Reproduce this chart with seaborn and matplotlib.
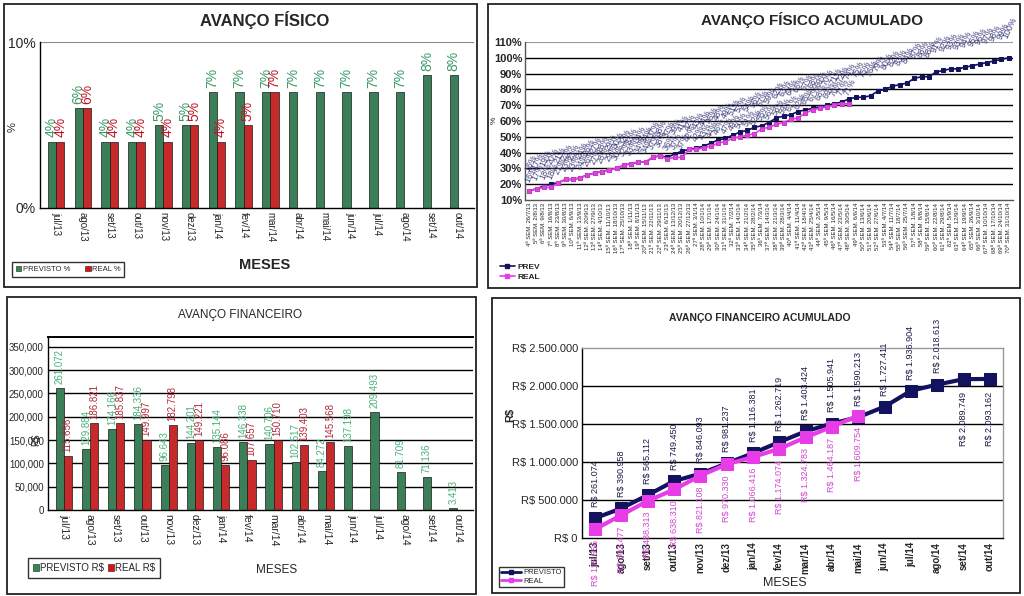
import numpy as np
import pandas as pd
import matplotlib
matplotlib.use("Agg")
import matplotlib.pyplot as plt
import seaborn as sns
from matplotlib.patches import Rectangle, Patch
from matplotlib.lines import Line2D
from matplotlib import font_manager as fm

# ---------------- data ----------------
meses = ["jul/13", "ago/13", "set/13", "out/13", "nov/13", "dez/13", "jan/14", "fev/14",
         "mar/14", "abr/14", "mai/14", "jun/14", "jul/14", "ago/14", "set/14", "out/14"]
fis_previsto = [4, 6, 4, 4, 5, 5, 7, 7, 7, 7, 7, 7, 7, 7, 8, 8]
fis_real = [4, 6, 4, 4, 4, 5, 4, 5, 7]

sem_datas = ["26/7/13", "2/8/13", "9/8/13", "16/8/13", "23/8/13", "30/8/13", "6/9/13", "13/9/13",
             "20/9/13", "27/9/13", "4/10/13", "11/10/13", "18/10/13", "25/10/13", "1/11/13",
             "8/11/13", "15/11/13", "22/11/13", "29/11/13", "6/12/13", "13/12/13", "20/12/13",
             "27/12/13", "3/1/14", "10/1/14", "17/1/14", "24/1/14", "31/1/14", "7/2/14",
             "14/2/14", "21/2/14", "28/2/14", "7/3/14", "14/3/14", "21/3/14", "28/3/14",
             "4/4/14", "11/4/14", "18/4/14", "25/4/14", "2/5/14", "9/5/14", "16/5/14",
             "23/5/14", "30/5/14", "6/6/14", "13/6/14", "20/6/14", "27/6/14", "4/7/14",
             "11/7/14", "18/7/14", "25/7/14", "1/8/14", "8/8/14", "15/8/14", "22/8/14",
             "29/8/14", "5/9/14", "12/9/14", "19/9/14", "26/9/14", "3/10/14", "10/10/14",
             "17/10/14", "24/10/14", "31/10/14"]
sem_inicio = 4
acum_prev = [16, 17, 19, 20, 21, 23, 23, 24, 26, 27, 28, 29, 30, 32, 33, 34, 34, 37, 38, 37,
             39, 41, 42, 43, 44, 46, 48, 49, 51, 53, 54, 56, 57, 59, 62, 63, 64, 66, 67, 68,
             69, 70, 71, 72, 74, 75, 75, 76, 79, 80, 82, 83, 84, 87, 88, 88, 91, 92, 93, 93,
             94, 95, 96, 97, 98, 99, 100]
acum_real = [16, 17, 18, 18, 21, 23, 23, 24, 26, 27, 28, 29, 30, 32, 33, 34, 34, 37, 38, 36,
             37, 37, 42, 42, 43, 44, 46, 47, 49, 50, 51, 52, 55, 56, 58, 59, 61, 62, 65, 67,
             68, 69, 70, 71, 71]

fin_previsto = [261072, 129884, 174166, 184336, 96643, 144201, 135144, 146338, 140706,
                102517, 84272, 137198, 209493, 81709, 71136, 3413]
fin_real = [115656, 186821, 185837, 149997, 182798, 149221, 96086, 107657, 150710,
            139403, 145568]

fin_prev_acum = [261074, 390958, 565112, 749450, 846093, 981237, 1116381, 1262719, 1403424,
                 1505941, 1590213, 1727411, 1936904, 2018613, 2089749, 2093162]
fin_real_acum = [115656, 302477, 488313, 638310, 821108, 970330, 1066416, 1174074, 1324783,
                 1464187, 1609754]

# ---------------- style ----------------
W, H = 1024, 596
sns.set_theme(style="white")
names = {f.name for f in fm.fontManager.ttflist}
NARROW = "Liberation Sans Narrow" if "Liberation Sans Narrow" in names else "Liberation Sans"
plt.rcParams["font.family"] = ["Liberation Sans", "DejaVu Sans"]
plt.rcParams["axes.linewidth"] = 1.0

GREEN = "#2E8B57"
RED = "#E01010"
NAVY = "#12125E"
MAGENTA = "#E83CE8"

fig = plt.figure(figsize=(W / 100, H / 100), dpi=100)
fig.patch.set_facecolor("white")


def pax(x0, y0, x1, y1):
    return fig.add_axes([x0 / W, 1 - y1 / H, (x1 - x0) / W, (y1 - y0) / H])


def ftext(x, y, s, **kw):
    fig.text(x / W, 1 - y / H, s, **kw)


def border(x0, y0, x1, y1, lw=1.3):
    fig.add_artist(Rectangle((x0 / W, 1 - y1 / H), (x1 - x0) / W, (y1 - y0) / H,
                             transform=fig.transFigure, fill=False, ec="#222222", lw=lw))


def fig_anchor(x, y):
    return (x / W, 1 - y / H)


def bar_df(prev, real, lab_prev, lab_real):
    n = len(meses)
    real_full = list(real) + [np.nan] * (n - len(real))
    return pd.DataFrame({
        "mes": meses * 2,
        "valor": list(prev) + real_full,
        "serie": [lab_prev] * n + [lab_real] * n,
    })


# =============== Panel 1: AVANÇO FÍSICO ===============
border(4, 4, 477, 287)
ax1 = pax(40, 42, 474, 208)
df1 = bar_df(fis_previsto, fis_real, "PREVISTO %", "REAL %")
sns.barplot(data=df1, x="mes", y="valor", hue="serie", palette=[GREEN, RED],
            width=0.62, edgecolor="#1a1a1a", linewidth=0.5, ax=ax1, legend=False)
ax1.set_ylim(0, 10)
ax1.set_xlim(-0.6, len(meses) - 0.4)
ax1.set_yticks([0, 10])
ax1.set_yticklabels(["0%", "10%"], fontsize=10, family=NARROW)
ax1.set_xticks(range(len(meses)))
ax1.set_xticklabels(meses, rotation=270, fontsize=7, family=NARROW)
ax1.set_xlabel("")
ax1.set_ylabel("")
ax1.tick_params(axis="both", length=0, pad=3)
for s in ["top", "right"]:
    ax1.spines[s].set_visible(False)
ax1.axhline(10, color="#888888", lw=0.8)
ax1.spines["left"].set_color("black")
ax1.spines["bottom"].set_color("black")
for cont, col in zip(ax1.containers, ["#3C9A68", "#C01528"]):
    for bar in cont:
        h = bar.get_height()
        if np.isnan(h):
            continue
        ax1.annotate(f"{h:.0f}%", (bar.get_x() + bar.get_width() / 2, h),
                     xytext=(0, 3), textcoords="offset points", rotation=90,
                     ha="center", va="bottom", fontsize=10, color=col, family=NARROW)
ftext(265, 20, "AVANÇO FÍSICO", ha="center", va="center", fontsize=12,
      fontweight="bold", family=NARROW)
ftext(265, 265, "MESES", ha="center", va="center", fontsize=10.5, fontweight="bold",
      family=NARROW)
ftext(13, 127, "%", ha="center", va="center", fontsize=8, rotation=90, family=NARROW)
h1 = [Patch(facecolor=GREEN, edgecolor="#1a1a1a", lw=0.4),
      Patch(facecolor=RED, edgecolor="#1a1a1a", lw=0.4)]
ax1.legend(h1, ["PREVISTO %", "REAL %"], loc="lower left",
           bbox_to_anchor=fig_anchor(8, 281), bbox_transform=fig.transFigure,
           ncol=2, fontsize=5.5, frameon=True, fancybox=False, edgecolor="black",
           handlelength=0.7, handleheight=0.7, handletextpad=0.2, columnspacing=2.0,
           borderpad=0.5, prop={"family": NARROW, "size": 5.5})

# =============== Panel 2: AVANÇO FÍSICO ACUMULADO ===============
border(488, 4, 1020, 288)
ax2 = pax(525, 42, 1013, 200)
idx_prev = np.arange(len(acum_prev))
idx_real = np.arange(len(acum_real))
sns.lineplot(x=idx_prev, y=acum_prev, color=NAVY, marker="s", markersize=3.2,
             markeredgecolor=NAVY, lw=1.2, ax=ax2)
sns.lineplot(x=idx_real, y=acum_real, color=MAGENTA, marker="s", markersize=3.2,
             markeredgecolor="#C040C0", lw=1.2, ax=ax2)
ax2.set_ylim(10, 110)
ax2.set_xlim(-0.6, len(acum_prev) - 0.4)
yt2 = list(range(10, 111, 10))
ax2.set_yticks(yt2)
ax2.set_yticklabels([f"{v}%" for v in yt2], fontsize=8, fontweight="bold", family=NARROW)
for v in yt2[1:-1]:
    ax2.axhline(v, color="black", lw=1.0, zorder=0)
ax2.axhline(110, color="#999999", lw=0.8, zorder=0)
ax2.set_xticks(idx_prev)
ax2.set_xticklabels([f"{sem_inicio + i}ª SEM. {d}" for i, d in enumerate(sem_datas)],
                    rotation=90, fontsize=4.3, family=NARROW)
ax2.tick_params(axis="both", length=0, pad=2)
for s in ["top", "right"]:
    ax2.spines[s].set_visible(False)
ax2.spines["left"].set_color("#555555")
ax2.spines["bottom"].set_color("#555555")
for x, v in zip(idx_prev, acum_prev):
    ax2.annotate(f"{v}%", (x, v), xytext=(1, 13), textcoords="offset points", rotation=65,
                 ha="center", va="bottom", fontsize=6.3, color="#3A3A7C", family=NARROW)
for x, v in zip(idx_real, acum_real):
    ax2.annotate(f"{v}%", (x, v), xytext=(1, 5), textcoords="offset points", rotation=65,
                 ha="center", va="bottom", fontsize=6.3, color="#44447F", family=NARROW)
ftext(812, 20, "AVANÇO FÍSICO ACUMULADO", ha="center", va="center", fontsize=11,
      fontweight="bold", family=NARROW)
ftext(494, 120, "%", ha="center", va="center", fontsize=6, rotation=90, family=NARROW)
h2 = [Line2D([], [], color=NAVY, marker="s", markersize=3, lw=1.2),
      Line2D([], [], color=MAGENTA, marker="s", markersize=3, lw=1.2)]
ax2.legend(h2, ["PREV", "REAL"], loc="lower left", bbox_to_anchor=fig_anchor(494, 287),
           bbox_transform=fig.transFigure, frameon=False, handlelength=1.8,
           handletextpad=0.3, labelspacing=0.3, borderpad=0.2,
           prop={"family": NARROW, "size": 6, "weight": "bold"})

# =============== Panel 3: AVANÇO FINANCEIRO ===============
border(7, 297, 476, 594)
ax3 = pax(48, 337, 473, 510)
df3 = bar_df(fin_previsto, fin_real, "PREVISTO R$", "REAL R$")
sns.barplot(data=df3, x="mes", y="valor", hue="serie", palette=[GREEN, RED],
            width=0.62, edgecolor="#1a1a1a", linewidth=0.5, ax=ax3, legend=False)
ax3.set_ylim(0, 371000)
ax3.set_xlim(-0.6, len(meses) - 0.4)
yt3 = list(range(0, 350001, 50000))
ax3.set_yticks(yt3)
ax3.set_yticklabels([f"{v:,}" for v in yt3], fontsize=7, family=NARROW)
for v in yt3[1:]:
    ax3.axhline(v, color="black", lw=1.0, zorder=0)
ax3.set_xticks(range(len(meses)))
ax3.set_xticklabels(meses, rotation=270, fontsize=7.5, family=NARROW)
ax3.set_xlabel("")
ax3.set_ylabel("")
ax3.tick_params(axis="both", length=0, pad=3)
ax3.spines["top"].set_color("black")
ax3.spines["top"].set_linewidth(1.4)
ax3.spines["right"].set_visible(False)
ax3.spines["left"].set_color("black")
ax3.spines["bottom"].set_color("black")
for cont, col in zip(ax3.containers, ["#48B078", "#B02838"]):
    for bar in cont:
        h = bar.get_height()
        if np.isnan(h):
            continue
        ax3.annotate(f"{h:,.0f}".replace(",", "."), (bar.get_x() + bar.get_width() / 2, h),
                     xytext=(0, 3), textcoords="offset points", rotation=90,
                     ha="center", va="bottom", fontsize=7, color=col, family=NARROW)
ftext(240, 315, "AVANÇO FINANCEIRO", ha="center", va="center", fontsize=8.5, family=NARROW)
ftext(277, 570, "MESES", ha="center", va="center", fontsize=8.5, family=NARROW)
ftext(36, 440, "R$", ha="center", va="center", fontsize=7, rotation=90, family=NARROW)
h3 = [Patch(facecolor=GREEN, edgecolor="#1a1a1a", lw=0.4),
      Patch(facecolor=RED, edgecolor="#1a1a1a", lw=0.4)]
ax3.legend(h3, ["PREVISTO R$", "REAL R$"], loc="lower left",
           bbox_to_anchor=fig_anchor(23, 583), bbox_transform=fig.transFigure,
           ncol=2, frameon=True, fancybox=False, edgecolor="black",
           handlelength=0.6, handleheight=0.7, handletextpad=0.15, columnspacing=0.4,
           borderpad=0.5, prop={"family": NARROW, "size": 7})

# =============== Panel 4: AVANÇO FINANCEIRO ACUMULADO ===============
border(492, 298, 1020, 593)
ax4 = pax(582, 348, 1003, 538)
i_prev = np.arange(len(fin_prev_acum))
i_real = np.arange(len(fin_real_acum))
sns.lineplot(x=i_prev, y=fin_prev_acum, color=NAVY, marker="s", markersize=8,
             markeredgecolor=NAVY, lw=3, ax=ax4)
sns.lineplot(x=i_real, y=fin_real_acum, color=MAGENTA, marker="s", markersize=8,
             markeredgecolor=MAGENTA, lw=3, ax=ax4)
ax4.set_ylim(0, 2500000)
ax4.set_xlim(-0.5, len(meses) - 0.5)
yt4 = list(range(0, 2500001, 500000))
ax4.set_yticks(yt4)
ax4.set_yticklabels([("R$ " + f"{v:,}".replace(",", ".")) for v in yt4], fontsize=8,
                    family=NARROW)
for v in yt4[1:-1]:
    ax4.axhline(v, color="black", lw=1.0, zorder=0)
ax4.set_xticks(range(len(meses)))
ax4.set_xticklabels(meses, rotation=90, fontsize=7, fontweight="bold", family="Liberation Sans")
ax4.tick_params(axis="both", length=0, pad=3)
for s in ["top", "right"]:
    ax4.spines[s].set_color("#999999")
ax4.spines["left"].set_color("black")
ax4.spines["bottom"].set_color("black")
n_prev = len(fin_prev_acum)
for x, v in zip(i_prev, fin_prev_acum):
    txt = "R$ " + f"{v:,}".replace(",", ".")
    below = x >= n_prev - 2
    ax4.annotate(txt, (x, v), xytext=(0, -9 if below else 8), textcoords="offset points",
                 rotation=90, ha="center", va="top" if below else "bottom",
                 fontsize=6.5, color="#1A1A48", family=NARROW)
for x, v in zip(i_real, fin_real_acum):
    txt = "R$ " + f"{v:,}".replace(",", ".")
    ax4.annotate(txt, (x, v), xytext=(0, -8), textcoords="offset points",
                 rotation=90, ha="center", va="top", fontsize=6.5, color="#D048D0",
                 family=NARROW)
ftext(760, 318, "AVANÇO FINANCEIRO ACUMULADO", ha="center", va="center", fontsize=7.5,
      fontweight="bold")
ftext(785, 583, "MESES", ha="center", va="center", fontsize=9, family=NARROW)
ftext(510, 415, "R$", ha="center", va="center", fontsize=8, fontweight="bold", rotation=90)
h4 = [Line2D([], [], color=NAVY, marker="s", markersize=3.5, lw=2),
      Line2D([], [], color=MAGENTA, marker="s", markersize=3.5, lw=2)]
ax4.legend(h4, ["PREVISTO", "REAL"], loc="lower left", bbox_to_anchor=fig_anchor(495, 591),
           bbox_transform=fig.transFigure, frameon=True, fancybox=False, edgecolor="black",
           handlelength=2.6, handletextpad=0.3, labelspacing=0.15, borderpad=0.3,
           prop={"family": NARROW, "size": 5.5})

fig.savefig("out.png", dpi=100, facecolor="white")
